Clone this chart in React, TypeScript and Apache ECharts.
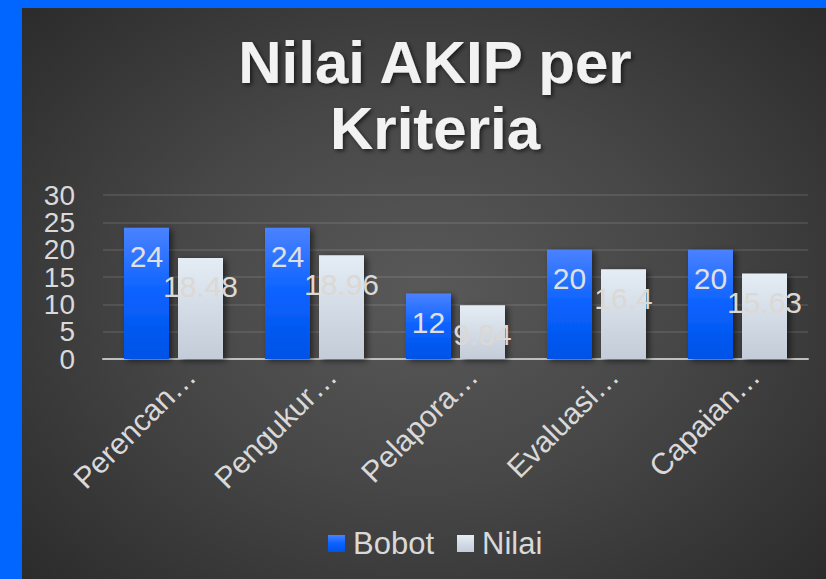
import React, { useEffect, useRef } from "react";
import * as echarts from "echarts";

const categories = ["Perencan…", "Pengukur…", "Pelapora…", "Evaluasi…", "Capaian…"];
const bobotValues = [24, 24, 12, 20, 20];
const nilaiValues = [18.48, 18.96, 9.84, 16.4, 15.63];
const yTicks = [0, 5, 10, 15, 20, 25, 30];
const titleText = "Nilai AKIP per\nKriteria";

export default function App() {
  const ref = useRef<HTMLDivElement>(null);
  useEffect(() => {
    document.body.style.margin = "0";
    if (!ref.current) return;
    const chart = echarts.init(ref.current, undefined, { renderer: "svg" });
    const font = "Liberation Sans, Arial, sans-serif";
    const labelColor = "#d9d9d9";
    const yMin = yTicks[0];
    const yMax = yTicks[yTicks.length - 1];
    const yLabelStyle = {
      color: labelColor,
      fontSize: 28,
      fontFamily: font,
      margin: 28,
      interval: 0,
    };
    chart.setOption({
      animation: false,
      backgroundColor: "transparent",
      textStyle: { fontFamily: font },
      title: {
        text: titleText,
        left: 408,
        textAlign: "center",
        top: 16,
        textStyle: {
          fontFamily: font,
          fontSize: 60,
          fontWeight: "bold",
          color: "#f2f2f2",
          lineHeight: 66,
          textShadowColor: "rgba(0,0,0,0.6)",
          textShadowBlur: 4,
          textShadowOffsetX: 2,
          textShadowOffsetY: 2,
        },
      },
      legend: {
        data: ["Bobot", "Nilai"],
        left: 301,
        top: 515,
        itemWidth: 17,
        itemHeight: 17,
        itemGap: 23,
        icon: "rect",
        textStyle: { color: labelColor, fontSize: 31, fontFamily: font, padding: [0, 0, 0, 3] },
      },
      grid: { left: 81, right: 18, top: 187, bottom: 220, containLabel: false },
      xAxis: {
        type: "category",
        data: categories,
        axisLine: { show: true, lineStyle: { color: "#bfbfbf", width: 2 } },
        axisTick: { show: false },
        axisLabel: {
          rotate: 45,
          color: labelColor,
          fontSize: 30,
          fontFamily: font,
          margin: 29,
          padding: [0, -24, 0, 0],
          interval: 0,
        },
      },
      yAxis: [
        {
          type: "value",
          position: "left",
          min: yMin,
          max: yMax,
          interval: yMax - yMin,
          axisLine: { show: false },
          axisTick: { show: false },
          splitLine: { show: false },
          axisLabel: { ...yLabelStyle, showMinLabel: true, showMaxLabel: true },
        },
        {
          type: "value",
          position: "left",
          min: yMin,
          max: yMax,
          interval: yTicks[1] - yTicks[0],
          axisLine: { show: false },
          axisTick: { show: false },
          axisLabel: { ...yLabelStyle, showMinLabel: false, showMaxLabel: false },
          splitLine: { lineStyle: { color: "rgba(255,255,255,0.13)", width: 1.5 } },
        },
      ],
      series: [
        {
          name: "Bobot",
          type: "bar",
          yAxisIndex: 0,
          data: bobotValues,
          barWidth: 45,
          barGap: "20%",
          itemStyle: {
            color: new echarts.graphic.LinearGradient(0, 0, 0, 1, [
              { offset: 0, color: "#4a82ff" },
              { offset: 0.5, color: "#0a62ff" },
              { offset: 1, color: "#0052e6" },
            ]),
            shadowColor: "rgba(0,0,0,0.55)",
            shadowBlur: 6,
            shadowOffsetX: 3,
            shadowOffsetY: 2,
          },
          label: {
            show: true,
            position: "insideTop",
            distance: 14,
            color: "#e0e0e0",
            fontSize: 30,
            fontFamily: font,
          },
        },
        {
          name: "Nilai",
          type: "bar",
          yAxisIndex: 0,
          data: nilaiValues,
          barWidth: 45,
          itemStyle: {
            color: new echarts.graphic.LinearGradient(0, 0, 0, 1, [
              { offset: 0, color: "#e4ecf5" },
              { offset: 1, color: "#c3ccd7" },
            ]),
            shadowColor: "rgba(0,0,0,0.55)",
            shadowBlur: 6,
            shadowOffsetX: 3,
            shadowOffsetY: 2,
          },
          label: {
            show: true,
            position: "insideTop",
            distance: 14,
            color: "#dcd8d4",
            fontSize: 30,
            fontFamily: font,
          },
        },
      ],
    });
    return () => chart.dispose();
  }, []);
  return (
    <div style={{ position: "relative", width: 826, height: 579, background: "#0066ff", overflow: "hidden" }}>
      <div
        style={{
          position: "absolute",
          left: 22,
          top: 8,
          width: 804,
          height: 571,
          background: "radial-gradient(ellipse 70% 75% at 50% 50%, #595959 0%, #474747 45%, #2a2a2a 100%)",
        }}
      >
        <div ref={ref} style={{ width: 804, height: 571 }} />
      </div>
    </div>
  );
}
